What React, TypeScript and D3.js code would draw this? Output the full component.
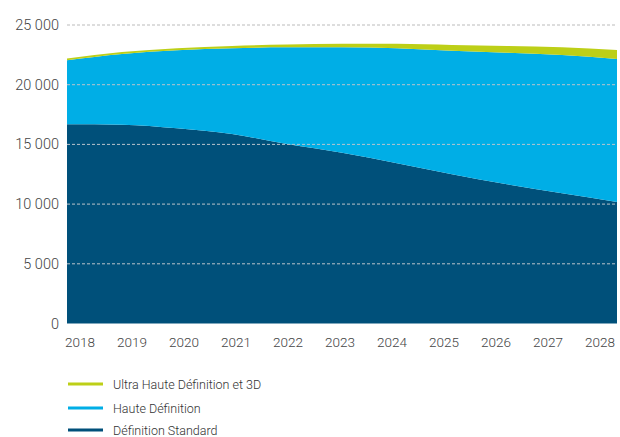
import React from "react";
import * as d3 from "d3";

const years = [2018, 2019, 2020, 2021, 2022, 2023, 2024, 2025, 2026, 2027, 2028];
const standard = [16680, 16650, 16350, 15870, 15030, 14300, 13420, 12500, 11660, 10900, 10180];
const haute = [5360, 5920, 6530, 7180, 8100, 8830, 9630, 10350, 11020, 11590, 11970];
const ultra = [160, 160, 180, 200, 230, 300, 380, 480, 560, 640, 750];
const yTicks = [0, 5000, 10000, 15000, 20000, 25000];
const seriesNames = ["Ultra Haute Définition et 3D", "Haute Définition", "Définition Standard"];
const colors = ["#BDCF17", "#00AEE6", "#00507A"];

const fmt = (v: number) => {
  const s = String(v);
  return s.length > 3 ? s.slice(0, s.length - 3) + "\u00A0" + s.slice(-3) : s;
};

export default function App() {
  const W = 620, H = 437;
  const x = d3.scaleLinear().domain([2018, 2028]).range([67, 617]);
  const xLab = d3.scalePoint<number>().domain(years).range([80, 600]);
  const y = d3.scaleLinear().domain([0, 25000]).range([323.5, 25]);

  const rows = years.map((yr, i) => ({ year: yr, sd: standard[i], hd: haute[i], uhd: ultra[i] }));
  const stack = d3.stack<any>().keys(["sd", "hd", "uhd"])(rows);
  const area = d3
    .area<any>()
    .x((d) => x(d.data.year))
    .y0((d) => y(d[0]))
    .y1((d) => y(d[1]))
    .curve(d3.curveMonotoneX);
  const fillFor = ["#00507A", "#00AEE6", "#BDCF17"];

  const font = "Roboto, 'Open Sans', sans-serif";
  return (
    <svg width={W} height={H} style={{ position: "absolute", left: 0, top: 0 }}>
      <rect width={W} height={H} fill="#fff" />
      {stack.map((s, i) => (
        <path key={i} d={area(s) || ""} fill={fillFor[i]} />
      ))}
      {yTicks.filter((t) => t > 0).map((t) => (
        <line
          key={t}
          x1={67}
          x2={617}
          y1={y(t)}
          y2={y(t)}
          stroke={t === 25000 ? "#bbbbbb" : "#b9c4cc"}
          strokeWidth={1}
          strokeDasharray="3,2"
        />
      ))}
      {yTicks.map((t) => (
        <text
          key={t}
          x={59}
          y={y(t) + 5}
          textAnchor="end"
          fontFamily={font}
          fontWeight={300}
          fontSize={14.5}
          fill="#444"
        >
          {fmt(t)}
        </text>
      ))}
      {years.map((yr) => (
        <text
          key={yr}
          x={xLab(yr)}
          y={347}
          textAnchor="middle"
          fontFamily={font}
          fontWeight={300}
          fontSize={13.5}
          fill="#444"
        >
          {yr}
        </text>
      ))}
      {seriesNames.map((n, i) => {
        const ly = [384, 408, 430][i];
        return (
          <g key={n}>
            <line x1={68} x2={103} y1={ly} y2={ly} stroke={colors[i]} strokeWidth={3} />
            <text x={113} y={ly + 4.5} fontFamily={font} fontWeight={300} fontSize={12.5} fill="#333">
              {n}
            </text>
          </g>
        );
      })}
    </svg>
  );
}
